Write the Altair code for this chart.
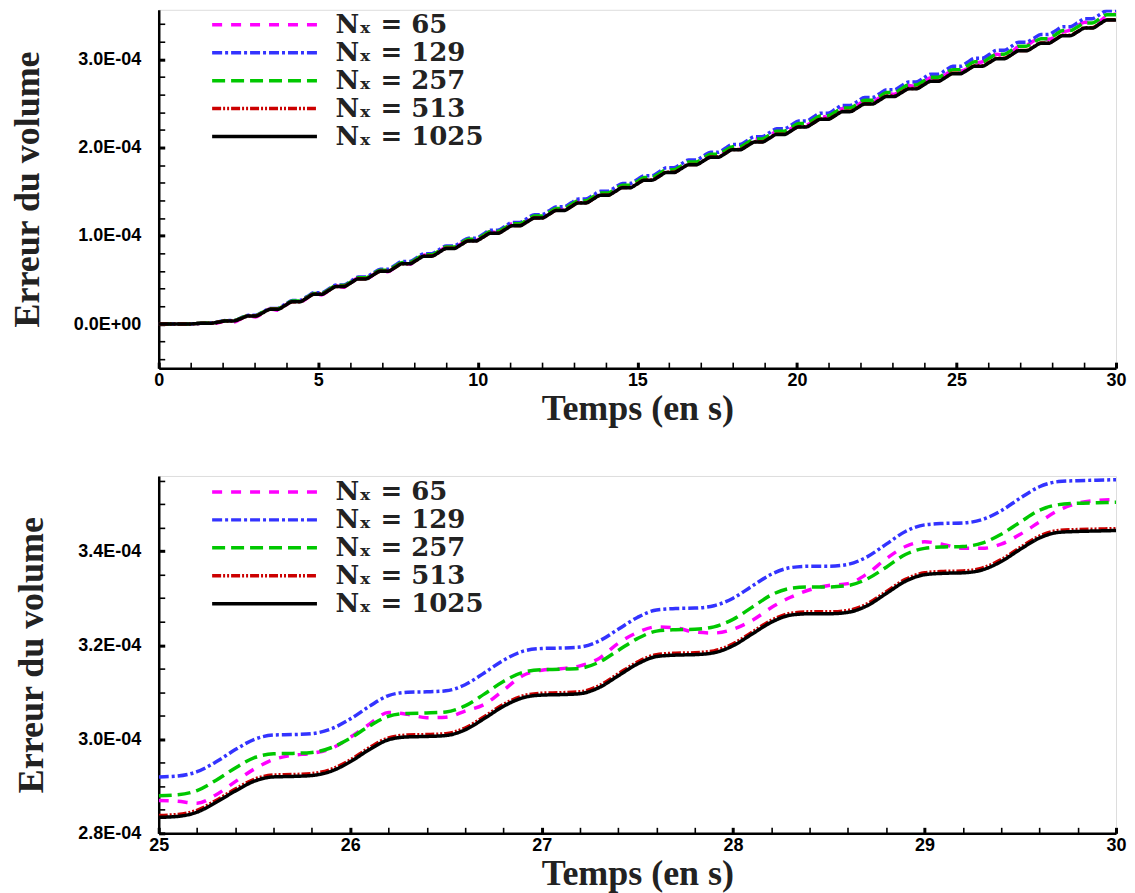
import altair as alt
import pandas as pd

# ---------------- series definitions ----------------
LABELS = ["Nₓ = 65", "Nₓ = 129", "Nₓ = 257", "Nₓ = 513", "Nₓ = 1025"]
COLORS = ["#ff00ff", "#3333ff", "#00c800", "#cc0000", "#000000"]
DASHES = [[10, 9], [10, 3, 3, 3], [13, 6], [9, 2, 2, 2, 2, 2], [1, 0]]
WIDTHS = [3.5, 3.5, 3.5, 3.5, 4.8]
Y_UNIT = 1e-4  # all values below are in units of 1E-04

# ---------------- top panel (t = 0 .. 30) ----------------
PLATEAU_T = [0.16, 0.85, 1.54, 2.23, 2.92, 3.61, 4.30, 4.99, 5.68, 6.37, 7.06,
             7.75, 8.44, 9.13, 9.82, 10.51, 11.20, 11.89, 12.58, 13.27, 13.96,
             14.65, 15.34, 16.03, 16.72, 17.41, 18.10, 18.79, 19.48, 20.17,
             20.86, 21.55, 22.24, 22.93, 23.62, 24.31, 25.00, 25.69, 26.38,
             27.07, 27.76, 28.45, 29.14, 29.83]
PLATEAU_HALF_WIDTH = 0.115
T_START, T_END = 0.0, 30.0

TOP_PLATEAU = {
    "Nₓ = 65": [0.000, 0.001, 0.012, 0.038, 0.094, 0.171, 0.258, 0.345, 0.432, 0.520,
                0.607, 0.694, 0.781, 0.874, 0.961, 1.048, 1.136, 1.223, 1.310, 1.397,
                1.484, 1.571, 1.657, 1.745, 1.832, 1.919, 2.006, 2.093, 2.180, 2.267,
                2.355, 2.442, 2.529, 2.616, 2.703, 2.790, 2.872, 2.952, 3.056, 3.143,
                3.240, 3.308, 3.420, 3.490],
    "Nₓ = 129": [0.000, 0.001, 0.012, 0.040, 0.098, 0.177, 0.266, 0.354, 0.443, 0.532,
                 0.620, 0.709, 0.797, 0.885, 0.973, 1.062, 1.151, 1.239, 1.328, 1.416,
                 1.504, 1.592, 1.681, 1.770, 1.858, 1.946, 2.035, 2.123, 2.211, 2.300,
                 2.389, 2.477, 2.565, 2.654, 2.742, 2.831, 2.920, 3.010, 3.101, 3.193,
                 3.279, 3.368, 3.459, 3.550],
    "Nₓ = 257": [0.000, 0.001, 0.011, 0.038, 0.095, 0.173, 0.260, 0.347, 0.435, 0.523,
                 0.610, 0.698, 0.785, 0.872, 0.960, 1.047, 1.135, 1.223, 1.310, 1.397,
                 1.485, 1.572, 1.659, 1.747, 1.835, 1.922, 2.009, 2.097, 2.184, 2.271,
                 2.360, 2.447, 2.534, 2.622, 2.709, 2.796, 2.881, 2.970, 3.056, 3.148,
                 3.233, 3.324, 3.409, 3.503],
    "Nₓ = 513": [0.000, 0.001, 0.010, 0.035, 0.090, 0.167, 0.253, 0.339, 0.425, 0.512,
                 0.598, 0.684, 0.771, 0.857, 0.943, 1.029, 1.116, 1.202, 1.288, 1.374,
                 1.460, 1.547, 1.633, 1.720, 1.806, 1.892, 1.978, 2.064, 2.150, 2.236,
                 2.323, 2.410, 2.496, 2.582, 2.668, 2.754, 2.840, 2.925, 3.010, 3.099,
                 3.184, 3.271, 3.357, 3.447],
    "Nₓ = 1025": [0.000, 0.001, 0.010, 0.035, 0.090, 0.166, 0.252, 0.338, 0.424, 0.511,
                  0.597, 0.683, 0.769, 0.855, 0.941, 1.027, 1.114, 1.200, 1.286, 1.372,
                  1.458, 1.544, 1.630, 1.717, 1.803, 1.889, 1.975, 2.061, 2.147, 2.233,
                  2.320, 2.406, 2.492, 2.578, 2.664, 2.750, 2.836, 2.921, 3.006, 3.095,
                  3.180, 3.267, 3.353, 3.443],
}
TOP_PLATEAU_END = {
    "Nₓ = 65": [0.000, 0.000, 0.001, 0.023, 0.079, 0.156, 0.243, 0.330, 0.417, 0.505,
                0.592, 0.679, 0.766, 0.860, 0.947, 1.034, 1.122, 1.209, 1.296, 1.383,
                1.470, 1.557, 1.643, 1.731, 1.818, 1.905, 1.992, 2.079, 2.166, 2.253,
                2.341, 2.428, 2.515, 2.602, 2.689, 2.776, 2.867, 2.970, 3.047, 3.155,
                3.226, 3.329, 3.406, 3.509],
}
TOP_RISE = {
    "Nₓ = 65": [0.000, 0.003, 0.016, 0.057, 0.124, 0.206, 0.293, 0.380, 0.467, 0.555,
                0.642, 0.729, 0.816, 0.909, 0.996, 1.083, 1.171, 1.258, 1.345, 1.432,
                1.519, 1.606, 1.692, 1.780, 1.867, 1.954, 2.041, 2.128, 2.215, 2.302,
                2.390, 2.477, 2.564, 2.651, 2.738, 2.825, 2.895, 3.014, 3.080, 3.207,
                3.255, 3.383, 3.433],
    "Nₓ = 129": [0.000, 0.006, 0.026, 0.069, 0.137, 0.221, 0.310, 0.398, 0.487, 0.576,
                 0.664, 0.753, 0.841, 0.929, 1.017, 1.106, 1.195, 1.283, 1.372, 1.460,
                 1.548, 1.636, 1.725, 1.814, 1.902, 1.990, 2.079, 2.167, 2.255, 2.344,
                 2.433, 2.521, 2.609, 2.698, 2.786, 2.875, 2.965, 3.055, 3.147, 3.236,
                 3.323, 3.413, 3.504],
    "Nₓ = 257": [0.000, 0.006, 0.024, 0.066, 0.134, 0.216, 0.303, 0.391, 0.479, 0.566,
                 0.654, 0.741, 0.828, 0.916, 1.003, 1.091, 1.179, 1.266, 1.353, 1.441,
                 1.528, 1.615, 1.703, 1.791, 1.878, 1.965, 2.053, 2.140, 2.227, 2.315,
                 2.403, 2.490, 2.578, 2.665, 2.752, 2.838, 2.925, 3.013, 3.102, 3.190,
                 3.278, 3.366, 3.456],
    "Nₓ = 513": [0.000, 0.005, 0.022, 0.062, 0.128, 0.210, 0.296, 0.382, 0.468, 0.555,
                 0.641, 0.727, 0.814, 0.900, 0.986, 1.072, 1.159, 1.245, 1.331, 1.417,
                 1.503, 1.590, 1.676, 1.763, 1.849, 1.935, 2.021, 2.107, 2.193, 2.279,
                 2.366, 2.453, 2.539, 2.625, 2.711, 2.797, 2.882, 2.967, 3.054, 3.141,
                 3.227, 3.314, 3.402],
    "Nₓ = 1025": [0.000, 0.005, 0.022, 0.062, 0.128, 0.209, 0.295, 0.381, 0.467, 0.554,
                  0.640, 0.726, 0.812, 0.898, 0.984, 1.070, 1.157, 1.243, 1.329, 1.415,
                  1.501, 1.587, 1.673, 1.760, 1.846, 1.932, 2.018, 2.104, 2.190, 2.276,
                  2.363, 2.449, 2.535, 2.621, 2.707, 2.793, 2.878, 2.963, 3.050, 3.137,
                  3.223, 3.310, 3.398],
}
TOP_INITIAL = {"Nₓ = 65": 0.0, "Nₓ = 129": 0.0, "Nₓ = 257": 0.0, "Nₓ = 513": 0.0, "Nₓ = 1025": 0.0}
TOP_FINAL = {"Nₓ = 65": 3.510, "Nₓ = 129": 3.552, "Nₓ = 257": 3.504, "Nₓ = 513": 3.448, "Nₓ = 1025": 3.444}

# ---------------- bottom panel (t = 25 .. 30, step 0.1) ----------------
BOT_T = [round(25.0 + 0.1 * i, 1) for i in range(51)]
BOT = {
    "Nₓ = 65": [2.870, 2.868, 2.864, 2.882, 2.910, 2.937, 2.957, 2.966, 2.970, 2.980,
                3.004, 3.032, 3.057, 3.053, 3.046, 3.047, 3.060, 3.074, 3.104, 3.135,
                3.147, 3.150, 3.156, 3.172, 3.204, 3.227, 3.239, 3.237, 3.228, 3.226,
                3.234, 3.253, 3.280, 3.302, 3.318, 3.327, 3.331, 3.352, 3.384, 3.410,
                3.420, 3.414, 3.406, 3.406, 3.415, 3.436, 3.462, 3.487, 3.502, 3.508,
                3.510],
    "Nₓ = 129": [2.920, 2.922, 2.931, 2.952, 2.978, 3.000, 3.009, 3.010, 3.012, 3.022,
                 3.043, 3.070, 3.093, 3.100, 3.101, 3.103, 3.116, 3.141, 3.168, 3.187,
                 3.193, 3.194, 3.196, 3.209, 3.234, 3.259, 3.275, 3.278, 3.279, 3.284,
                 3.300, 3.326, 3.351, 3.365, 3.368, 3.368, 3.372, 3.388, 3.415, 3.442,
                 3.456, 3.459, 3.460, 3.467, 3.486, 3.513, 3.537, 3.548, 3.550, 3.551,
                 3.552],
    "Nₓ = 257": [2.880, 2.882, 2.891, 2.913, 2.939, 2.961, 2.969, 2.970, 2.972, 2.982,
                 3.002, 3.028, 3.049, 3.055, 3.056, 3.058, 3.071, 3.096, 3.123, 3.142,
                 3.148, 3.149, 3.151, 3.164, 3.189, 3.214, 3.230, 3.233, 3.234, 3.239,
                 3.255, 3.281, 3.307, 3.321, 3.324, 3.324, 3.327, 3.341, 3.366, 3.393,
                 3.406, 3.409, 3.410, 3.417, 3.436, 3.462, 3.487, 3.499, 3.502, 3.503,
                 3.504],
    "Nₓ = 513": [2.838, 2.840, 2.849, 2.870, 2.894, 2.915, 2.924, 2.925, 2.927, 2.936,
                 2.956, 2.982, 3.003, 3.009, 3.010, 3.012, 3.024, 3.048, 3.074, 3.092,
                 3.098, 3.099, 3.101, 3.114, 3.139, 3.164, 3.180, 3.183, 3.184, 3.188,
                 3.203, 3.228, 3.253, 3.268, 3.271, 3.271, 3.274, 3.288, 3.314, 3.340,
                 3.354, 3.357, 3.358, 3.364, 3.382, 3.408, 3.432, 3.444, 3.446, 3.447,
                 3.448],
    "Nₓ = 1025": [2.834, 2.836, 2.845, 2.866, 2.890, 2.911, 2.920, 2.921, 2.923, 2.932,
                  2.952, 2.978, 2.999, 3.005, 3.006, 3.008, 3.020, 3.044, 3.070, 3.088,
                  3.094, 3.095, 3.097, 3.110, 3.135, 3.160, 3.176, 3.179, 3.180, 3.184,
                  3.199, 3.224, 3.249, 3.264, 3.267, 3.267, 3.270, 3.284, 3.310, 3.336,
                  3.350, 3.353, 3.354, 3.360, 3.378, 3.404, 3.428, 3.440, 3.442, 3.443,
                  3.444],
}

# ---------------- build tables ----------------
top_rows = []
for lab in LABELS:
    p = TOP_PLATEAU[lab]
    pe = TOP_PLATEAU_END.get(lab, p)
    r = TOP_RISE[lab]
    top_rows.append({"series": lab, "t": T_START, "v": TOP_INITIAL[lab] * Y_UNIT})
    for k, c in enumerate(PLATEAU_T):
        top_rows.append({"series": lab, "t": c - PLATEAU_HALF_WIDTH, "v": p[k] * Y_UNIT})
        top_rows.append({"series": lab, "t": c + PLATEAU_HALF_WIDTH, "v": pe[k] * Y_UNIT})
        if k < len(r) and k + 1 < len(PLATEAU_T):
            top_rows.append({"series": lab, "t": (c + PLATEAU_T[k + 1]) / 2, "v": r[k] * Y_UNIT})
    top_rows.append({"series": lab, "t": T_END, "v": TOP_FINAL[lab] * Y_UNIT})
top_df = pd.DataFrame(top_rows)

bot_rows = []
for lab in LABELS:
    for t, v in zip(BOT_T, BOT[lab]):
        bot_rows.append({"series": lab, "t": t, "v": v * Y_UNIT})
bot_df = pd.DataFrame(bot_rows)

# ---------------- styling helpers ----------------
TICK_FONT = "Liberation Sans"
TITLE_FONT = "Liberation Serif"
LEGEND_FONT = "DejaVu Serif"


def make_axis(values, major_test, label_expr, title, label_pad, title_pad):
    return alt.Axis(
        values=values, title=title, labelExpr=label_expr, grid=False,
        tickSize={"expr": "-6"},
        tickWidth={"condition": {"test": major_test, "value": 3}, "value": 1.6},
        tickColor="black", domainColor="black", domainWidth=2.5,
        labelFont=TICK_FONT, labelFontSize=18, labelFontWeight="bold",
        labelColor="black", labelPadding=label_pad, labelFlush=False,
        labelOverlap=False,
        titleFont=TITLE_FONT, titleFontSize=36, titleFontWeight="bold",
        titleColor="#222222", titlePadding={"expr": str(title_pad)},
    )


def make_legend(ly):
    return alt.Legend(
        title=None, orient="none", legendX=93, legendY=ly, padding=0,
        symbolType="M-5,0L5,0", symbolSize=441, symbolStrokeWidth=3.5,
        labelFont=LEGEND_FONT, labelFontWeight="bold", labelFontSize=26,
        labelColor="#222222", labelOffset=58, labelLimit=500, rowPadding=2,
    )


def panel(df, xdom, xvals, xmaj, xlab, ydom, yvals, ymaj, ylab, height, ly):
    leg = make_legend(ly)
    return alt.Chart(df).mark_line(interpolate="monotone", clip=True).encode(
        x=alt.X("t:Q", scale=alt.Scale(domain=xdom, nice=False, zero=False),
                axis=make_axis(xvals, xmaj, xlab, "Temps (en s)", 9, 2)),
        y=alt.Y("v:Q", scale=alt.Scale(domain=ydom, nice=False, zero=False),
                axis=make_axis(yvals, ymaj, ylab, "Erreur du volume", 24, 27)),
        color=alt.Color("series:N", scale=alt.Scale(domain=LABELS, range=COLORS), legend=leg),
        strokeDash=alt.StrokeDash("series:N", scale=alt.Scale(domain=LABELS, range=DASHES), legend=leg),
        strokeWidth=alt.StrokeWidth("series:N", scale=alt.Scale(domain=LABELS, range=WIDTHS), legend=None),
        order=alt.Order("t:Q"),
    ).properties(width=959, height=height)


top_x_vals = list(range(0, 31))
top_x_major = "datum.value % 5 === 0"
top_x_label = "datum.value % 5 === 0 ? format(datum.value, 'd') : ''"
top_y_vals = [round(-0.4 + 0.2 * i, 2) * Y_UNIT for i in range(20)]
top_y_major = "abs(datum.value * 1e4 - round(datum.value * 1e4)) < 1e-6"
top_y_label = ("abs(datum.value * 1e4 - round(datum.value * 1e4)) < 1e-6 ? "
               "(abs(datum.value) < 1e-12 ? '0.0E+00' : format(datum.value * 1e4, '.1f') + 'E-04') : ''")

bot_x_vals = [round(25.0 + 0.2 * i, 1) for i in range(26)]
bot_x_major = "abs(datum.value - round(datum.value)) < 1e-6"
bot_x_label = "abs(datum.value - round(datum.value)) < 1e-6 ? format(datum.value, 'd') : ''"
bot_y_vals = [round(2.8 + 0.05 * i, 2) * Y_UNIT for i in range(16)]
bot_y_major = "abs(datum.value * 5e4 - round(datum.value * 5e4)) < 1e-6"
bot_y_label = ("abs(datum.value * 5e4 - round(datum.value * 5e4)) < 1e-6 ? "
               "format(datum.value * 1e4, '.1f') + 'E-04' : ''")

top = panel(top_df, [0, 30], top_x_vals, top_x_major, top_x_label,
            [-0.5 * Y_UNIT, 3.56 * Y_UNIT], top_y_vals, top_y_major, top_y_label, 359, 2)
bottom = panel(bot_df, [25, 30], bot_x_vals, bot_x_major, bot_x_label,
               [2.8 * Y_UNIT, 3.56 * Y_UNIT], bot_y_vals, bot_y_major, bot_y_label, 358, 3)

chart = alt.vconcat(top, bottom, spacing=44).resolve_scale(
    color="independent", strokeDash="independent", strokeWidth="independent"
).resolve_legend(
    color="independent", strokeDash="independent"
).properties(
    padding={"left": 0, "top": 0, "right": 0, "bottom": 0}
).configure_view(stroke=None).configure(background="white")

chart.save("out.html", embed_options={"renderer": "svg", "actions": False})
